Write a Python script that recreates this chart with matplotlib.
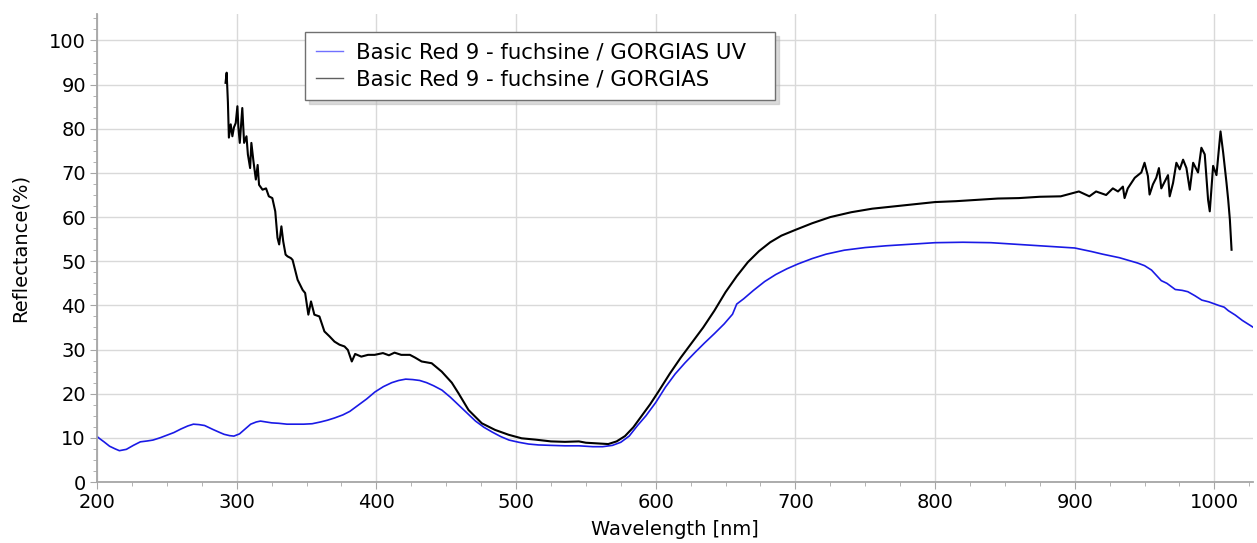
import numpy as np
import matplotlib.pyplot as plt
from matplotlib.ticker import MultipleLocator

# UV spectrum (blue)
wl_uv = [200, 202, 205, 209, 213, 216, 221, 226, 231, 236, 240, 245, 250, 255, 260, 265, 269, 273, 277,
         283, 288, 291, 295, 298, 302, 306, 310, 314, 317, 321, 325, 330, 336, 342, 348, 354, 360, 365,
         370, 376, 381, 387, 393, 399, 405, 411, 416, 421, 426, 431, 436, 441, 447, 453, 459, 465, 471,
         477, 483, 489, 495, 502, 509, 516, 525, 535, 545, 555, 562, 569, 575, 581, 587, 593, 600, 607,
         614, 621, 628, 635, 642, 649, 655, 658, 663, 670, 678, 686, 694, 702, 712, 722, 735, 750, 765,
         780, 800, 820, 840, 860, 880, 900, 912, 920, 932, 945, 950, 955, 962, 966, 972, 977, 981, 986,
         991, 996, 1003, 1007, 1010, 1015, 1020, 1024, 1028]
refl_uv = [10.3, 9.8, 9.1, 8.1, 7.5, 7.1, 7.4, 8.3, 9.1, 9.3, 9.5, 10.0, 10.6, 11.2, 12.0, 12.7, 13.1, 13.0, 12.8,
           11.9, 11.2, 10.8, 10.5, 10.4, 10.9, 12.0, 13.1, 13.6, 13.8, 13.6, 13.4, 13.3, 13.1, 13.1, 13.1, 13.2, 13.6, 14.0,
           14.5, 15.2, 16.0, 17.4, 18.8, 20.4, 21.6, 22.5, 23.0, 23.3, 23.2, 23.0, 22.5, 21.8, 20.8, 19.2, 17.4, 15.6, 13.8,
           12.4, 11.3, 10.3, 9.5, 9.0, 8.6, 8.4, 8.3, 8.2, 8.2, 8.0, 8.0, 8.3, 9.0, 10.4, 12.8, 15.0, 18.0, 21.5,
           24.5, 27.0, 29.3, 31.5, 33.6, 35.8, 38.0, 40.3, 41.5, 43.4, 45.4, 47.0, 48.3, 49.4, 50.6, 51.6, 52.5, 53.1, 53.5,
           53.8, 54.2, 54.3, 54.2, 53.8, 53.4, 53.0, 52.2, 51.6, 50.8, 49.6, 49.0, 48.0, 45.6, 45.0, 43.6, 43.4, 43.1, 42.2,
           41.2, 40.8, 40.0, 39.6, 38.8, 37.8, 36.6, 35.8, 35.0]

# visible spectrum (black)
wl_vis = [292, 292.8, 293.7, 294.4, 295.7, 296.9, 298, 299.3, 300.5, 301.2, 302.2, 304, 305.3, 307, 308,
          309.6, 310.5, 312, 313.7, 315, 316, 318.5, 321, 323, 325.5, 327.6, 329.2, 330.4, 332, 333.3, 335,
          336.4, 338.8, 340, 343.6, 347.2, 349, 351.3, 353.2, 355.6, 359.2, 362.8, 366.4, 370, 373.6, 377.2,
          379.6, 382.4, 384.8, 389.2, 394, 398.8, 404.7, 409, 413, 417.8, 424, 427.6, 432.4, 439.6, 446.8,
          454, 458.8, 466, 475.5, 485, 494.7, 504, 514, 525, 535, 545, 550, 560, 566, 572, 578, 584, 590,
          596, 602, 610, 618, 626, 634, 642, 650, 658, 666, 674, 682, 690, 700, 712, 725, 740, 755, 770,
          785, 800, 815, 830, 845, 860, 875, 890, 903, 910.5, 915.3, 922.5, 927.3, 931, 934.5, 935.7, 938,
          943, 947.7, 950, 952.4, 953.6, 956, 958.4, 960.3, 962, 964.4, 966.8, 968, 970.4, 972.8, 975.2,
          977.6, 980, 982.4, 984.8, 988.3, 990.7, 993.1, 995.5, 996.7, 999.1, 1001.5, 1004.4, 1006.3,
          1008.7, 1009.9, 1011.1, 1012.3]
refl_vis = [90.4, 92.7, 86, 78, 81, 78.3, 80.3, 81.3, 85.1, 80.3, 76.8, 84.7, 76.8, 78.3, 74.2,
            71.1, 76.8, 72.6, 68.5, 71.8, 67.3, 66.2, 66.5, 64.7, 64.3, 61.3, 55.3, 53.8, 57.9, 54.5, 51.5,
            51.1, 50.7, 50.3, 45.8, 43.5, 42.8, 37.9, 40.9, 37.9, 37.5, 34.1, 33, 31.8, 31.1, 30.7,
            29.9, 27.3, 29, 28.4, 28.8, 28.8, 29.2, 28.7, 29.3, 28.8, 28.8, 28.2, 27.3, 26.9, 25,
            22.5, 20.1, 16.3, 13.3, 11.8, 10.7, 9.9, 9.6, 9.2, 9.1, 9.2, 8.9, 8.7, 8.6, 9.2, 10.4, 12.4, 15.0,
            17.6, 20.5, 24.5, 28.2, 31.6, 35.0, 38.8, 43.0, 46.6, 49.8, 52.3, 54.3, 55.8, 57.1, 58.6, 60.0, 61.1, 61.9, 62.4,
            62.9, 63.4, 63.6, 63.9, 64.2, 64.3, 64.6, 64.7, 65.8, 64.7, 65.8, 65, 66.5, 65.8, 66.9, 64.3, 66.5,
            68.9, 70.1, 72.3, 69.3, 65.1, 67.4, 68.9, 71.1, 66.5, 68, 69.5, 64.7, 67.7, 72.3, 70.8,
            73, 71.1, 66.2, 72.3, 70.1, 75.7, 74.2, 63.9, 61.3, 71.6, 69.5, 79.4, 74.6,
            67.7, 63.9, 59.4, 52.6]

labels = ['Basic Red 9 - fuchsine / GORGIAS UV', 'Basic Red 9 - fuchsine / GORGIAS']

fig = plt.figure(figsize=(12.57, 5.43), dpi=100)
ax = fig.add_axes([0.0772, 0.1123, 0.920, 0.862])

ax.plot(wl_uv, refl_uv, color='#1a1ae6', lw=1.2, label=labels[0])
ax.plot(wl_vis, refl_vis, color='black', lw=1.5, label=labels[1])

ax.set_xlim(200, 1028)
ax.set_ylim(0, 106)
ax.xaxis.set_major_locator(MultipleLocator(100))
ax.xaxis.set_minor_locator(MultipleLocator(25))
ax.yaxis.set_major_locator(MultipleLocator(10))
ax.yaxis.set_minor_locator(MultipleLocator(2.5))
ax.grid(True, which='major', color='#d9d9d9', lw=1)
ax.set_axisbelow(True)

for s in ['top', 'right']:
    ax.spines[s].set_visible(False)
for s in ['left', 'bottom']:
    ax.spines[s].set_color('#a6a6a6')
    ax.spines[s].set_linewidth(1.3)
ax.tick_params(which='major', length=5, color='#a6a6a6', labelsize=14, pad=3)
ax.tick_params(which='minor', length=3, color='#a6a6a6')

ax.set_xlabel('Wavelength [nm]', fontsize=14, labelpad=6)
ax.set_ylabel('Reflectance(%)', fontsize=14, labelpad=14)

# legend box stretched to the reference width
leg = ax.legend(loc='upper left', bbox_to_anchor=(0.18, 0.962, 0.406, 0), mode='expand',
                borderaxespad=0, fontsize=15.3, shadow={'color': '#b8b8b8', 'ox': 3, 'oy': -3},
                fancybox=False, edgecolor='#707070', handlelength=1.3, borderpad=0.5,
                labelspacing=0.32, handletextpad=0.6)
leg.get_frame().set_linewidth(1.0)
leg.legend_handles[0].set_color('#7070ff')
leg.legend_handles[1].set_color('#606060')
for h in leg.legend_handles:
    h.set_linewidth(1.0)

fig.savefig('out.png', dpi=100)
